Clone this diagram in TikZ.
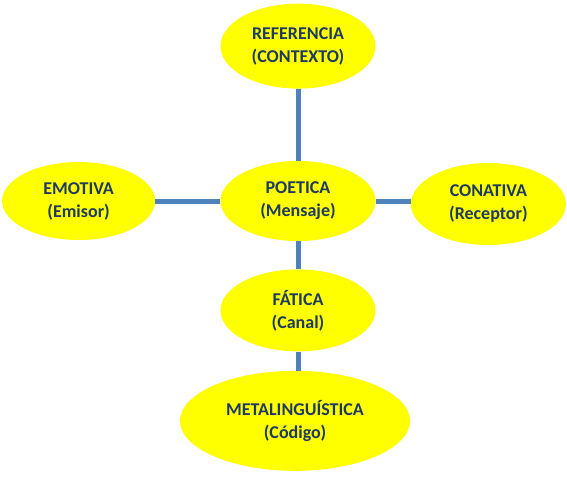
\documentclass[tikz,border=0pt]{standalone}
\usepackage{fontspec}
\setmainfont{Carlito}
\usepackage{xcolor}
\usetikzlibrary{positioning,shapes.geometric}
\definecolor{fnyel}{HTML}{FFFF00}
\definecolor{fnline}{HTML}{4F81BD}
\definecolor{fntext}{HTML}{1F3A60}

\begin{document}
\begin{tikzpicture}[x=1pt, y=-1pt, font=\fontsize{18}{23}\selectfont\bfseries,
  fn/.style={ellipse, fill=fnyel, text=fntext, align=center, inner sep=0pt, minimum width=155pt, minimum height=80pt},
  link/.style={draw=fnline, line width=5pt}]
\useasboundingbox (0,0) rectangle (567,480);
\node[fn] (poe) at (298,201) {POETICA\\(Mensaje)};
\node[fn, minimum height=85pt, above=72pt of poe] (ref) {REFERENCIA\\(CONTEXTO)};
\node[fn, minimum width=153pt, minimum height=78pt, left=65pt of poe] (emo) {EMOTIVA\\(Emisor)};
\node[fn, minimum height=82pt, right=35pt of poe, yshift=-3pt] (con) {CONATIVA\\(Receptor)};
\node[fn, minimum height=82pt, below=28pt of poe] (fat) {FÁTICA\\(Canal)};
\node[fn, minimum width=230pt, minimum height=100pt, below=19pt of fat, xshift=-3pt] (meta) {METALINGUÍSTICA\\(Código)};
\draw[link] (ref) -- (poe);
\draw[link] (emo) -- (poe);
\draw[link] (poe.east) -- (poe.east -| con.west);
\draw[link] (poe) -- (fat);
\draw[link] (fat.south) -- (fat.south |- meta.north);
\end{tikzpicture}
\end{document}
